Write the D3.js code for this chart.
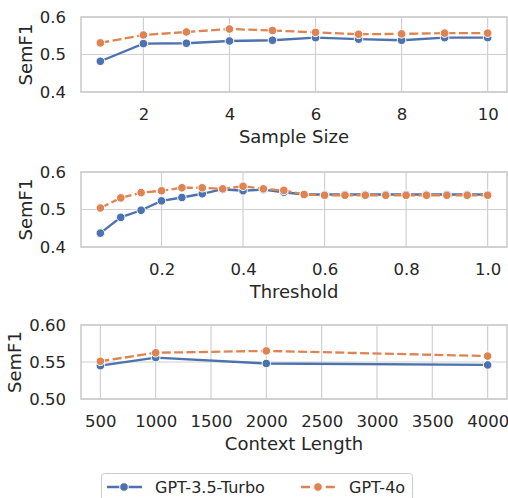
<!DOCTYPE html>
<html>
<head>
<meta charset="utf-8">
<script src="https://cdn.jsdelivr.net/npm/d3@7"></script>
<style>
  body { margin: 0; background: #fff; }
  text { font-family: "DejaVu Sans", sans-serif; fill: #262626; }
</style>
</head>
<body>
<script>
// data
var series = ["GPT-3.5-Turbo", "GPT-4o"];
var colors = ["#4c72b0", "#dd8452"];

var sampleSize = [1, 2, 3, 4, 5, 6, 7, 8, 9, 10];
var sampleGpt35 = [0.482, 0.529, 0.530, 0.536, 0.538, 0.545, 0.541, 0.538, 0.545, 0.545];
var sampleGpt4o = [0.531, 0.552, 0.560, 0.568, 0.564, 0.559, 0.554, 0.555, 0.557, 0.557];

var threshold = [0.05, 0.1, 0.15, 0.2, 0.25, 0.3, 0.35, 0.4, 0.45, 0.5,
                 0.55, 0.6, 0.65, 0.7, 0.75, 0.8, 0.85, 0.9, 0.95, 1.0];
var threshGpt35 = [0.437, 0.479, 0.498, 0.523, 0.532, 0.542, 0.554, 0.550, 0.553, 0.546,
                   0.540, 0.540, 0.540, 0.540, 0.540, 0.540, 0.540, 0.540, 0.540, 0.540];
var threshGpt4o = [0.504, 0.531, 0.545, 0.550, 0.558, 0.558, 0.555, 0.562, 0.555, 0.551,
                   0.540, 0.538, 0.538, 0.538, 0.538, 0.538, 0.538, 0.538, 0.538, 0.538];

var contextLen = [500, 1000, 2000, 4000];
var ctxGpt35 = [0.545, 0.556, 0.548, 0.546];
var ctxGpt4o = [0.551, 0.5625, 0.565, 0.558];

var sampleTicks = [2, 4, 6, 8, 10];
var threshTicks = [0.2, 0.4, 0.6, 0.8, 1.0];
var ctxTicks = [500, 1000, 1500, 2000, 2500, 3000, 3500, 4000];

var W = 508, H = 498;
var svg = d3.select("body").append("svg")
    .attr("width", W)
    .attr("height", H);

// one panel per experiment
var panels = [
  { x: sampleSize, ys: [sampleGpt35, sampleGpt4o], xTicks: sampleTicks, xFmt: d3.format("d"),
    yDom: [0.4, 0.6], yTicks: [0.4, 0.5, 0.6], yFmt: d3.format(".1f"),
    top: 17, bottom: 92, label: "Sample Size", yLabX: 32 },
  { x: threshold, ys: [threshGpt35, threshGpt4o], xTicks: threshTicks, xFmt: d3.format(".1f"),
    yDom: [0.4, 0.6], yTicks: [0.4, 0.5, 0.6], yFmt: d3.format(".1f"),
    top: 172, bottom: 247, label: "Threshold", yLabX: 32 },
  { x: contextLen, ys: [ctxGpt35, ctxGpt4o], xTicks: ctxTicks, xFmt: d3.format("d"),
    yDom: [0.5, 0.6], yTicks: [0.5, 0.55, 0.6], yFmt: d3.format(".2f"),
    top: 325, bottom: 399, label: "Context Length", yLabX: 21 }
];

var left = 81, right = 507;
var dash = "9,3.4";

panels.forEach(function(p) {
  var ext = d3.extent(p.x), pad = (ext[1] - ext[0]) * 0.05;
  var x = d3.scaleLinear().domain([ext[0] - pad, ext[1] + pad]).range([left, right]);
  var y = d3.scaleLinear().domain(p.yDom).range([p.bottom, p.top]);
  var g = svg.append("g");

  // grid
  g.selectAll("line.vg").data(p.xTicks).enter().append("line")
      .attr("x1", d => x(d)).attr("x2", d => x(d))
      .attr("y1", p.top).attr("y2", p.bottom)
      .attr("stroke", "#d0d0d0").attr("stroke-width", 1.2);
  g.selectAll("line.hg").data(p.yTicks).enter().append("line")
      .attr("x1", left).attr("x2", right)
      .attr("y1", d => y(d)).attr("y2", d => y(d))
      .attr("stroke", "#d0d0d0").attr("stroke-width", 1.2);

  // frame
  g.append("rect")
      .attr("x", left).attr("y", p.top)
      .attr("width", right - left).attr("height", p.bottom - p.top)
      .attr("fill", "none").attr("stroke", "#cccccc").attr("stroke-width", 1.6);

  // tick labels
  var xAxis = g.append("g").attr("transform", "translate(0," + p.bottom + ")")
      .call(d3.axisBottom(x).tickValues(p.xTicks).tickFormat(p.xFmt).tickSize(0).tickPadding(16));
  var yAxis = g.append("g").attr("transform", "translate(" + left + ",0)")
      .call(d3.axisLeft(y).tickValues(p.yTicks).tickFormat(p.yFmt).tickSize(0).tickPadding(15));
  [xAxis, yAxis].forEach(function(a) {
    a.select(".domain").remove();
    a.selectAll("text").attr("font-size", 16.5).style("fill", "#262626")
      .attr("font-family", "DejaVu Sans");
  });

  g.append("text")
      .attr("x", (left + right) / 2).attr("y", p.bottom + 51)
      .attr("text-anchor", "middle").attr("font-size", 18)
      .text(p.label);
  g.append("text")
      .attr("transform", "translate(" + p.yLabX + "," + ((p.top + p.bottom) / 2) + ") rotate(-90)")
      .attr("text-anchor", "middle").attr("font-size", 18)
      .text("SemF1");

  var line = d3.line().x(d => x(d[0])).y(d => y(d[1]));
  p.ys.forEach(function(vals, si) {
    var pts = p.x.map((v, i) => [v, vals[i]]);
    g.append("path")
        .attr("d", line(pts))
        .attr("fill", "none")
        .attr("stroke", colors[si])
        .attr("stroke-width", 2.3)
        .attr("stroke-dasharray", si === 1 ? dash : null);
    g.selectAll("circle.s" + si).data(pts).enter().append("circle")
        .attr("cx", d => x(d[0])).attr("cy", d => y(d[1]))
        .attr("r", 4.3)
        .attr("fill", colors[si])
        .attr("stroke", "#fff").attr("stroke-width", 1);
  });
});

// legend
var leg = svg.append("g");
leg.append("rect")
    .attr("x", 101.5).attr("y", 473.5)
    .attr("width", 311).attr("height", 40).attr("rx", 3)
    .attr("fill", "#fff").attr("stroke", "#cccccc").attr("stroke-width", 1);
var legX = [107, 301];
series.forEach(function(name, si) {
  var lx = legX[si];
  leg.append("line")
      .attr("x1", lx).attr("x2", lx + 35)
      .attr("y1", 487).attr("y2", 487)
      .attr("stroke", colors[si]).attr("stroke-width", 2.3)
      .attr("stroke-dasharray", si === 1 ? dash : null);
  leg.append("circle")
      .attr("cx", lx + 17).attr("cy", 487).attr("r", 4.3)
      .attr("fill", colors[si]).attr("stroke", "#fff").attr("stroke-width", 1);
  leg.append("text")
      .attr("x", lx + 48).attr("y", 487).attr("dy", "0.35em")
      .attr("font-size", 16)
      .text(name);
});
</script>
</body>
</html>
